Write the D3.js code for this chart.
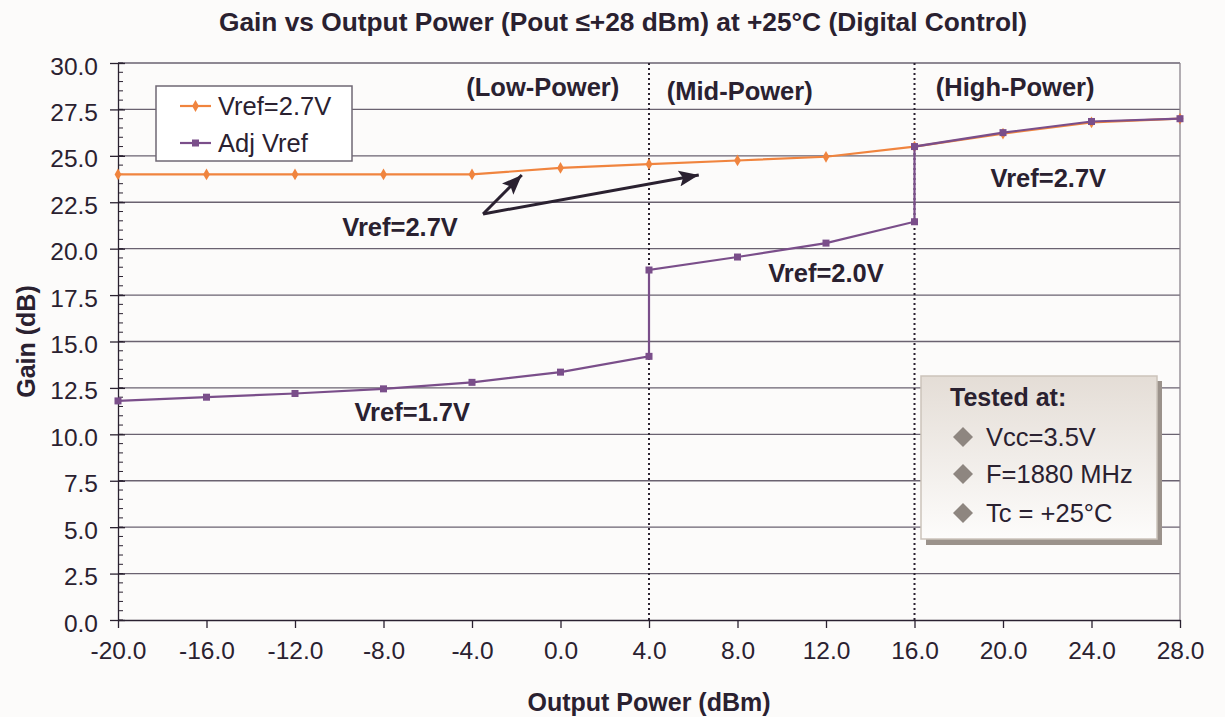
<!DOCTYPE html>
<html>
<head>
<meta charset="utf-8">
<script src="https://cdn.jsdelivr.net/npm/d3@7"></script>
<style>
  body { margin: 0; background: #fcfbfa; }
  svg { display: block; font-family: "Liberation Sans", Arial, sans-serif; }
</style>
</head>
<body>
<svg id="chart" width="1225" height="717"></svg>
<script>
// ---- data -------------------------------------------------------------
const outputPower = [-20, -16, -12, -8, -4, 0, 4, 8, 12, 16, 20, 24, 28];
const gainVref27  = [24.0, 24.0, 24.0, 24.0, 24.0, 24.35, 24.55, 24.75, 24.95, 25.5, 26.2, 26.8, 27.0];

// adjustable Vref: Vref steps at 4 dBm and 16 dBm, so those x values repeat
const adjPower = [-20, -16, -12, -8, -4, 0, 4, 4, 8, 12, 16, 16, 20, 24, 28];
const gainAdj  = [11.8, 12.0, 12.2, 12.45, 12.8, 13.35, 14.2, 18.85, 19.55, 20.3, 21.45, 25.5, 26.25, 26.85, 27.0];

const xTickValues = [-20, -16, -12, -8, -4, 0, 4, 8, 12, 16, 20, 24, 28];
const yTickValues = [0, 2.5, 5, 7.5, 10, 12.5, 15, 17.5, 20, 22.5, 25, 27.5, 30];
const regionBounds = [4, 16];

const seriesNames = ["Vref=2.7V", "Adj Vref"];
const testConditions = ["Vcc=3.5V", "F=1880 MHz", "Tc = +25°C"];

// annotation text anchored in data units
const regionLabels = [
  { text: "(Low-Power)",  x: -0.8, y: 28.72 },
  { text: "(Mid-Power)",  x: 8.1,  y: 28.5 },
  { text: "(High-Power)", x: 20.55, y: 28.72 }
];
const vrefLabels = [
  { text: "Vref=2.7V", x: -7.25, y: 21.15 },
  { text: "Vref=1.7V", x: -6.7,  y: 11.2 },
  { text: "Vref=2.0V", x: 12.0,  y: 18.7 },
  { text: "Vref=2.7V", x: 22.05, y: 23.8 }
];
const arrowStart = { x: -3.5, y: 21.87 };
const arrowTips = [ { x: -1.75, y: 23.97 }, { x: 6.25, y: 23.97 } ];

// ---- layout -----------------------------------------------------------
const W = 1225, H = 717;
const margin = { left: 118, right: 45, top: 63, bottom: 97 };
const ink = "#2a2130";
const orange = "#f0843e";
const purple = "#7a4e8a";
const fmt = v => d3.format(".1f")(v).replace("\u2212", "-");

const svg = d3.select("#chart");
svg.append("rect").attr("width", W).attr("height", H).attr("fill", "#fcfbfa");

const x = d3.scaleLinear().domain([-20, 28]).range([margin.left, W - margin.right]);
const y = d3.scaleLinear().domain([0, 30]).range([H - margin.bottom, margin.top]);

// gridlines
svg.append("g").selectAll("line").data(yTickValues.filter(v => v > 0)).join("line")
  .attr("x1", x(-20)).attr("x2", x(28))
  .attr("y1", d => y(d)).attr("y2", d => y(d))
  .attr("stroke", "#6a6270").attr("stroke-width", 1.3);

// right frame line
svg.append("line")
  .attr("x1", x(28)).attr("x2", x(28)).attr("y1", y(30)).attr("y2", y(0))
  .attr("stroke", "#8a838c").attr("stroke-width", 1.3);

// y axis with minor ticks
const yMinor = d3.range(0, 30.001, 0.5);
svg.append("g").selectAll("line").data(yMinor).join("line")
  .attr("x1", x(-20)).attr("x2", x(-20) + 5)
  .attr("y1", d => y(d)).attr("y2", d => y(d))
  .attr("stroke", ink).attr("stroke-width", 1);

const yAxis = svg.append("g").attr("transform", `translate(${x(-20)},0)`)
  .call(d3.axisLeft(y).tickValues(yTickValues).tickFormat(fmt).tickSizeInner(8).tickSizeOuter(0).tickPadding(12));
yAxis.select(".domain").attr("stroke", ink).attr("stroke-width", 1.3);
yAxis.selectAll(".tick line").attr("stroke", ink).attr("stroke-width", 1.3).attr("x2", -8).attr("x1", 7);
yAxis.selectAll(".tick text").attr("fill", ink).attr("font-size", 24.5).attr("dy", "0.45em")
  .style("font-family", "Liberation Sans, Arial, sans-serif");

const xAxis = svg.append("g").attr("transform", `translate(0,${y(0)})`)
  .call(d3.axisBottom(x).tickValues(xTickValues).tickFormat(fmt).tickSizeInner(8).tickSizeOuter(0).tickPadding(14));
xAxis.select(".domain").attr("stroke", ink).attr("stroke-width", 1.3);
xAxis.selectAll(".tick line").attr("stroke", ink).attr("stroke-width", 1.3);
xAxis.selectAll(".tick text").attr("fill", ink).attr("font-size", 24.5)
  .style("font-family", "Liberation Sans, Arial, sans-serif");

// region dividers
svg.append("g").selectAll("line").data(regionBounds).join("line")
  .attr("x1", d => x(d)).attr("x2", d => x(d))
  .attr("y1", y(30)).attr("y2", y(0))
  .attr("stroke", ink).attr("stroke-width", 2).attr("stroke-dasharray", "2,3");

// series lines
const line = d3.line().x(d => x(d[0])).y(d => y(d[1]));
const fixedPts = outputPower.map((p, i) => [p, gainVref27[i]]);
const adjPts = adjPower.map((p, i) => [p, gainAdj[i]]);

svg.append("path").attr("d", line(fixedPts)).attr("fill", "none")
  .attr("stroke", orange).attr("stroke-width", 2.2);
svg.append("g").selectAll("path").data(fixedPts).join("path")
  .attr("transform", d => `translate(${x(d[0])},${y(d[1])})`)
  .attr("d", d3.symbol(d3.symbolDiamond, 40)).attr("fill", orange);

svg.append("path").attr("d", line(adjPts)).attr("fill", "none")
  .attr("stroke", purple).attr("stroke-width", 2.2);
svg.append("g").selectAll("rect").data(adjPts).join("rect")
  .attr("x", d => x(d[0]) - 3.5).attr("y", d => y(d[1]) - 3.5)
  .attr("width", 7).attr("height", 7).attr("fill", purple);

// arrows
const defs = svg.append("defs");
defs.append("marker").attr("id", "head")
  .attr("viewBox", "0 0 20 16").attr("refX", 20).attr("refY", 8)
  .attr("markerWidth", 20).attr("markerHeight", 16)
  .attr("markerUnits", "userSpaceOnUse").attr("orient", "auto")
  .append("path").attr("d", "M0,0 L20,8 L0,16 L4,8 Z").attr("fill", ink);
svg.append("g").selectAll("line").data(arrowTips).join("line")
  .attr("x1", x(arrowStart.x)).attr("y1", y(arrowStart.y))
  .attr("x2", d => x(d.x)).attr("y2", d => y(d.y))
  .attr("stroke", ink).attr("stroke-width", 3).attr("marker-end", "url(#head)");

// annotation text
svg.append("g").selectAll("text").data(regionLabels.concat(vrefLabels)).join("text")
  .attr("x", d => x(d.x)).attr("y", d => y(d.y)).attr("dy", "0.36em")
  .attr("text-anchor", "middle").attr("font-weight", "bold").attr("font-size", 25.5)
  .attr("fill", ink).text(d => d.text);

// legend
const lg = svg.append("g");
lg.append("rect").attr("x", 156).attr("y", 86).attr("width", 196).attr("height", 75)
  .attr("fill", "#ffffff").attr("stroke", "#6f6874").attr("stroke-width", 1.5);
const legendRows = [
  { name: seriesNames[0], color: orange, shape: "diamond", cy: 106 },
  { name: seriesNames[1], color: purple, shape: "square", cy: 143 }
];
legendRows.forEach(r => {
  lg.append("line").attr("x1", 180).attr("x2", 211).attr("y1", r.cy).attr("y2", r.cy)
    .attr("stroke", r.color).attr("stroke-width", 2.2);
  if (r.shape === "diamond") {
    lg.append("path").attr("transform", `translate(195.5,${r.cy})`)
      .attr("d", d3.symbol(d3.symbolDiamond, 40)).attr("fill", r.color);
  } else {
    lg.append("rect").attr("x", 192).attr("y", r.cy - 3.5).attr("width", 7).attr("height", 7).attr("fill", r.color);
  }
  lg.append("text").attr("x", 218).attr("y", r.cy + 8.5).attr("font-size", 25.5)
    .attr("fill", ink).text(r.name);
});

// test-condition box
const grad = defs.append("linearGradient").attr("id", "boxFill")
  .attr("x1", 0).attr("y1", 0).attr("x2", 0).attr("y2", 1);
grad.append("stop").attr("offset", "0%").attr("stop-color", "#e4ddd6");
grad.append("stop").attr("offset", "100%").attr("stop-color", "#fdfcfb");
const tb = svg.append("g");
tb.append("rect").attr("x", 926).attr("y", 381).attr("width", 236).attr("height", 164).attr("fill", "#9b928b");
tb.append("rect").attr("x", 921).attr("y", 376).attr("width", 236).attr("height", 163)
  .attr("fill", "url(#boxFill)").attr("stroke", "#cbc3bb").attr("stroke-width", 1.5);
tb.append("text").attr("x", 950).attr("y", 406).attr("font-size", 25).attr("font-weight", "bold")
  .attr("fill", ink).text("Tested at:");
testConditions.forEach((t, i) => {
  const cy = [437, 474, 513][i];
  tb.append("path").attr("d", `M963,${cy - 10} L973,${cy} L963,${cy + 10} L953,${cy} Z`).attr("fill", "#8e8680");
  tb.append("text").attr("x", 986).attr("y", cy + 8.5).attr("font-size", 25.5).attr("fill", ink).text(t);
});

// titles
svg.append("text").attr("x", 623).attr("y", 31).attr("text-anchor", "middle")
  .attr("font-size", 26.3).attr("font-weight", "bold").attr("fill", ink)
  .text("Gain vs Output Power (Pout ≤+28 dBm) at +25°C (Digital Control)");
svg.append("text").attr("x", x(4)).attr("y", 711).attr("text-anchor", "middle")
  .attr("font-size", 25).attr("font-weight", "bold").attr("fill", ink)
  .text("Output Power (dBm)");
svg.append("text").attr("transform", `translate(35,${y(15)}) rotate(-90)`)
  .attr("text-anchor", "middle").attr("font-size", 25).attr("font-weight", "bold").attr("fill", ink)
  .text("Gain (dB)");
</script>
</body>
</html>
